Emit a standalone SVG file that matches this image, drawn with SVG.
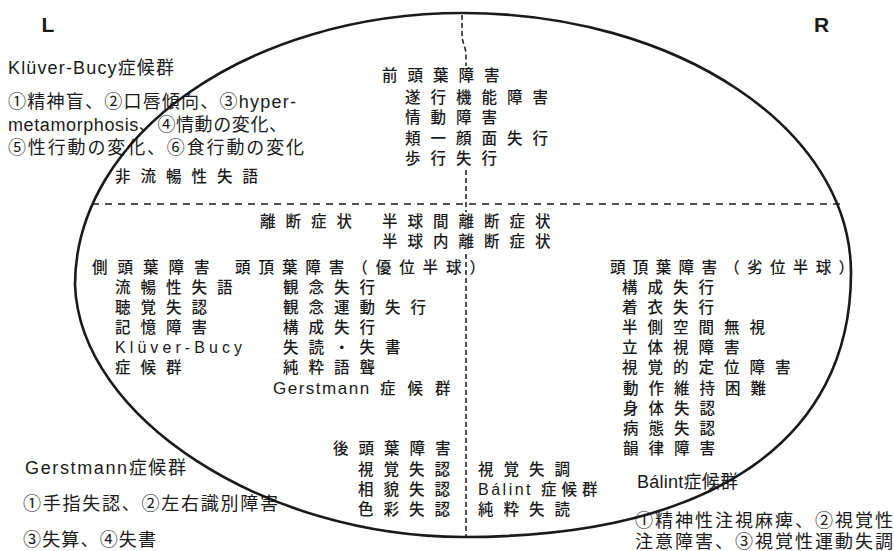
<svg xmlns="http://www.w3.org/2000/svg" width="894" height="551" viewBox="0 0 894 551">
<style>
.bg{fill:#fff}
.outline{fill:none;stroke:#1a1a1a;stroke-width:2.6}
.dv{fill:none;stroke:#1a1a1a;stroke-width:1.5;stroke-dasharray:5 3}
.dh{fill:none;stroke:#1a1a1a;stroke-width:1.5;stroke-dasharray:7 6}
text{fill:#1a1a1a}
.lr{font-family:"Liberation Sans",Arial,sans-serif;font-weight:bold;font-size:21px}
.o{font-family:"Liberation Sans","Noto Sans CJK JP",sans-serif;font-size:18px}
.i{font-family:"Noto Sans CJK JP",sans-serif;font-size:15.5px;font-weight:500;letter-spacing:10px}
.ip{font-family:"Noto Sans CJK JP",sans-serif;font-size:15.5px;font-weight:500;letter-spacing:0}
.il{font-family:"Liberation Sans","Noto Sans CJK JP",sans-serif;font-size:16px}
.cj{font-family:"Noto Sans CJK JP",sans-serif;font-size:15.5px;font-weight:500}
</style>
<rect class="bg" x="0" y="0" width="894" height="551"/>
<g id="brain-outline">
<path class="outline" d="M463,13 C677,13 851,129 851,273 C851,440 712,537 463,537 C265,537 80,418 75,285 C75,135 249,13 463,13 Z"/>
</g>
<g id="connectors">
<path class="dv" d="M462,15 V38 L466,52 V66"/>
<path class="dv" d="M466,170 V212"/>
<path class="dv" d="M466,254 V537"/>
<path class="dh" d="M92,204 H842"/>
</g>
<g id="label-L"><text class="lr" x="41.5" y="32">L</text></g>
<g id="label-R"><text class="lr" x="814" y="32">R</text></g>
<g id="kluver-bucy-note">
<text class="o" x="8" y="74" textLength="166" lengthAdjust="spacing">Klüver-Bucy症候群</text>
<text class="o" x="8" y="107.5" textLength="288" lengthAdjust="spacing">①精神盲、②口唇傾向、③hyper-</text>
<text class="o" x="8" y="130.5" textLength="279" lengthAdjust="spacing">metamorphosis、④情動の変化、</text>
<text class="o" x="8" y="153.5" textLength="296" lengthAdjust="spacing">⑤性行動の変化、⑥食行動の変化</text>
</g>
<g id="frontal">
<text class="i" x="382" y="81">前頭葉障害</text>
<text class="i" x="405" y="102.5">遂行機能障害</text>
<text class="i" x="405" y="123">情動障害</text>
<text class="i" x="405" y="143.5">頬一顔面失行</text>
<text class="i" x="405" y="163.5">歩行失行</text>
</g>
<g id="nonfluent-aphasia"><text class="i" x="115" y="182">非流暢性失語</text></g>
<g id="disconnection">
<text class="i" x="260" y="227">離断症状</text>
<text class="i" x="382" y="227">半球間離断症状</text>
<text class="i" x="382" y="247">半球内離断症状</text>
</g>
<g id="temporal">
<text class="i" x="92" y="272.5">側頭葉障害</text>
<text class="i" x="115" y="292.5">流暢性失語</text>
<text class="i" x="115" y="312.5">聴覚失認</text>
<text class="i" x="115" y="332.7">記憶障害</text>
<text class="il" x="115" y="352.9" textLength="127" lengthAdjust="spacing">Klüver-Bucy</text>
<text class="i" x="115" y="373.2">症候群</text>
</g>
<g id="parietal-dominant">
<text class="ip" x="235" y="272.5" textLength="250" lengthAdjust="spacing">頭頂葉障害（優位半球）</text>
<text class="i" x="283" y="292.5">観念失行</text>
<text class="i" x="283" y="312.5">観念運動失行</text>
<text class="i" x="283" y="332.7">構成失行</text>
<text class="i" x="283" y="352.9">失読・失書</text>
<text class="i" x="283" y="373.2">純粋語聾</text>
<text class="il" x="273" y="393.5"><tspan style="letter-spacing:1.5px;font-size:17px">Gerstmann </tspan><tspan class="cj" x="380" style="letter-spacing:12px">症候群</tspan></text>
</g>
<g id="parietal-nondominant">
<text class="ip" x="610" y="272.5" textLength="244" lengthAdjust="spacing">頭頂葉障害（劣位半球）</text>
<text class="i" x="622" y="292.5">構成失行</text>
<text class="i" x="622" y="312.5">着衣失行</text>
<text class="i" x="622" y="332.7">半側空間無視</text>
<text class="i" x="622" y="352.9">立体視障害</text>
<text class="i" x="622" y="373.2">視覚的定位障害</text>
<text class="i" x="623" y="393.5">動作維持困難</text>
<text class="i" x="623" y="413.8">身体失認</text>
<text class="i" x="623" y="434.1">病態失認</text>
<text class="i" x="623" y="454.4">韻律障害</text>
</g>
<g id="occipital">
<text class="i" x="333" y="454.4">後頭葉障害</text>
<text class="i" x="358" y="474.7">視覚失認</text>
<text class="i" x="358" y="495">相貌失認</text>
<text class="i" x="358" y="515.3">色彩失認</text>
<text class="i" x="478" y="474.7">視覚失調</text>
<text class="il" x="478" y="495"><tspan style="letter-spacing:2.5px">Bálint </tspan><tspan class="cj" x="541" style="letter-spacing:5px">症候群</tspan></text>
<text class="i" x="478" y="515.3">純粋失読</text>
</g>
<g id="gerstmann-note">
<text class="o" x="25" y="474" textLength="161" lengthAdjust="spacing">Gerstmann症候群</text>
<text class="o" x="23" y="510" textLength="255" lengthAdjust="spacing">①手指失認、②左右識別障害</text>
<text class="o" x="23" y="546" textLength="133" lengthAdjust="spacing">③失算、④失書</text>
</g>
<g id="balint-note">
<text class="o" x="637" y="488" textLength="101" lengthAdjust="spacing">Bálint症候群</text>
<text class="o" x="635" y="527" textLength="258" lengthAdjust="spacing">①精神性注視麻痺、②視覚性</text>
<text class="o" x="635" y="548" textLength="258" lengthAdjust="spacing">注意障害、③視覚性運動失調</text>
</g>
</svg>
